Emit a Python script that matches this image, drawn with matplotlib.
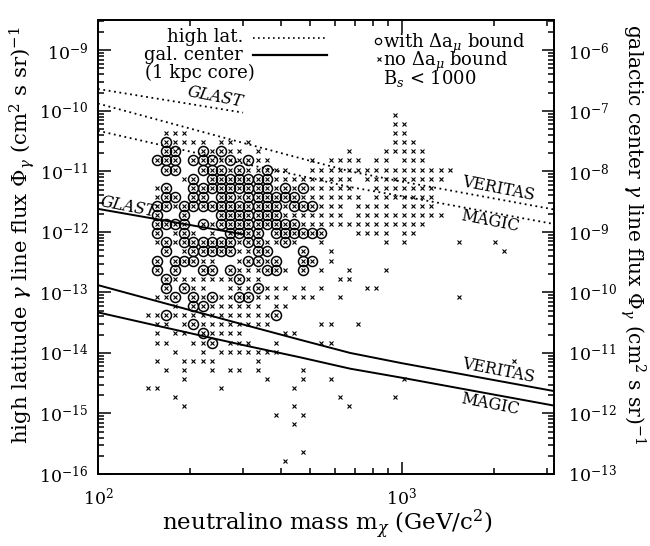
import numpy as np
import matplotlib.pyplot as plt
from matplotlib.ticker import LogLocator, NullFormatter

plt.rcParams["font.family"] = "DejaVu Serif"
plt.rcParams["mathtext.fontset"] = "dejavuserif"

# detector sensitivity curves (log10 flux), same curve read on both y scales
sens_mass = [100, 150, 300, 460, 675, 1000, 3162]
veritas_log = [-9.88, -10.12, -10.53, -10.78, -11.00, -11.17, -11.63]
magic_log = [-10.33, -10.53, -10.87, -11.07, -11.26, -11.41, -11.87]
glast_mass = [100, 300]
glast_highlat_log = [-9.64, -10.03]
glast_galcen_log = [-8.62, -9.04]

# scan grid: log10 mass of each column, log10 flux of each row
grid_logm = [2.164, 2.194, 2.224, 2.254, 2.284, 2.314, 2.344, 2.374, 2.404, 2.434,
             2.465, 2.495, 2.525, 2.555, 2.585, 2.615, 2.645, 2.675, 2.705, 2.735,
             2.766, 2.796, 2.826, 2.856, 2.886, 2.916, 2.946, 2.976, 3.006, 3.036,
             3.067, 3.097, 3.127, 3.157, 3.187, 3.217, 3.247, 3.277, 3.307, 3.337,
             3.368, 3.398, 3.428, 3.458, 3.488]
grid_logf = [-10.068, -10.218, -10.369, -10.519, -10.670, -10.820, -10.971, -11.121,
             -11.271, -11.422, -11.572, -11.723, -11.873, -12.023, -12.174, -12.324,
             -12.475, -12.625, -12.775, -12.926, -13.076, -13.227, -13.377, -13.527,
             -13.678, -13.828, -13.979, -14.129, -14.279, -14.430, -14.580, -14.731,
             -14.881, -15.031, -15.182, -15.332, -15.483, -15.633, -15.783]

# o = with delta a_mu bound (circled), x = no delta a_mu bound; groups of 5 columns
scan_map = [
    "..... ..... ..... ..... ..... ..x.. ..... ..... .....",
    "..... ..... ..... ..... ..... ..xx. ..... ..... .....",
    "..xxx ..... ..... ..... ..... ..xx. ..... ..... .....",
    "..oxx xx.xx .x... ..... ..... ..xxx ..... ..... .....",
    "..oo. .oxox x.x.. ..... ..x.. .xxxx x.... ..... .....",
    ".ooo. oooxo xoxx. ...x. xxxx. xx.xx x.... ..... .....",
    "..oo. .ooox oxxox x..xx xxxxx xxxxx xxxx. ..... .....",
    "....x o.ooo oooox xxxxx xxx.x xxxxx xxx.. ..... .....",
    ".xo.. ooooo oooox oxoxx xxx.. xxxxx xx... ..... .....",
    ".xoo. oo.oo xoooo ooxxx xxxx. xxxxx xx... ..... .....",
    ".ooxo ooooo ooooo xooox xx.xx xx.xx xx... ..... .....",
    ".o..o ...oo ooooo xxxxx xx.xx xxxxx xxx.. ..... .....",
    ".oooo .oxoo ooooo ooxxx xxxxx xxxxx x.... ..... .....",
    ".o.xo x.x.o ooo.o ooooo ...xx xx.xx ..... ..... .....",
    ".xoxo ooooo xooxx ox..x ..... .x.x. ....x ...x. .....",
    "..o.x ooooo xxoo. ..o.. x.... ..... ..... ....x .....",
    ".o.oo oxx.. xooxo ..oo. x.... ..... ..... ..... .....",
    ".o.o. .oo.o xxxoo x.o.x ..x.. .x... ..... ..... .....",
    "..oxx xxxxx oxx.. ..... .xx.. ..... ..... ..... .....",
    "..o.o xx..x xxoxx x.x.x ....x x.... ..... ..... .....",
    ".xxo. oxoxx ooxxx .xxx. .x... ..... ....x ..... .....",
    "...x. ooxxx xxx.x x.... ..... ..... ..... ..... .....",
    "xxoxx xxxxx xxxxo ..... ..... ..... ..... ..... .....",
    ".xx.x oxxxx xxxx. ....x x..x. ..... ..... ..... .....",
    ".x.xx .oxxx x.... xx... ..... ..... ..... ..... .....",
    ".xx.. xxo.x xx..x ....x x.... ..... ..... ..... .....",
    "...x. .x.xx xxxxx ..... ..... ..... ..... ..... .....",
    ".x..x xxx.. ..x.. ..... ..... ..... ..... ..... x....",
    "..x.x ..x.x x.x.. ..x.. ..... ..... ..... ..... .....",
    "....x ..... ...x. ..x.. x.... ...x. ..... ..... .....",
    "xx... ...x. ..... .x... ..... ..... ..... ..... .....",
    "...x. ..... ..... ..... .x... ..x.. ..... ..... .....",
    "....x ..... ..... .x... ..x.. ..... ..... ..... .....",
    "..... ..... ....x ..x.. ..... ..... ..... ..... .....",
    "..... ..... ..... .x... ..... ..... ..... ..... .....",
    "..... ..... ..... ..... ..... ..... ..... ..... .....",
    "..... ..... ..... ..... ..... ..... ..... ..... .....",
    "..... ..... ..... ..x.. ..... ..... ..... ..... .....",
    "..... ..... ..... x.... ..... ..... ..... ..... .....",
]

cross_m, cross_f, circ_m, circ_f = [], [], [], []
for row, line in enumerate(scan_map):
    for col, ch in enumerate(line.replace(" ", "")):
        if ch == ".":
            continue
        cross_m.append(10 ** grid_logm[col])
        cross_f.append(10 ** grid_logf[row])
        if ch == "o":
            circ_m.append(10 ** grid_logm[col])
            circ_f.append(10 ** grid_logf[row])

fig = plt.figure(figsize=(6.5, 5.46), dpi=100)
ax = fig.add_axes([98 / 650, 72 / 546, 456 / 650, 454 / 546])
ax2 = ax.twinx()

for a in (ax, ax2):
    a.set_xscale("log")
    a.set_yscale("log")
ax.set_xlim(100, 3162)
ax.set_ylim(1e-16, 10 ** -8.5)
ax2.set_ylim(1e-13, 10 ** -5.5)

dotted = (0, (1, 2))
sm = np.array(sens_mass)
ax.plot(sm, 10 ** np.array(veritas_log), color="black", lw=1.3, ls=dotted)
ax.plot(sm, 10 ** np.array(magic_log), color="black", lw=1.3, ls=dotted)
ax.plot(glast_mass, 10 ** np.array(glast_highlat_log), color="black", lw=1.3, ls=dotted)
ax2.plot(sm, 10 ** np.array(veritas_log), color="black", lw=1.4)
ax2.plot(sm, 10 ** np.array(magic_log), color="black", lw=1.4)
ax2.plot(glast_mass, 10 ** np.array(glast_galcen_log), color="black", lw=1.4)

ax.plot(cross_m, cross_f, ls="", marker="x", ms=3, mew=0.8, color="black")
ax.plot(circ_m, circ_f, ls="", marker="o", ms=7.2, mew=1.1, mfc="none", color="black")

lab = dict(ha="center", va="center", rotation=-11, rotation_mode="anchor", fontsize=11.5)
ax.text(243, 10 ** -9.77, "GLAST", style="italic", **lab)
ax2.text(126, 10 ** -8.59, "GLAST", style="italic", **lab)
ax.text(2070, 10 ** -11.29, "VERITAS", **lab)
ax.text(1945, 10 ** -11.82, "MAGIC", **lab)
ax2.text(2070, 10 ** -11.30, "VERITAS", **lab)
ax2.text(1945, 10 ** -11.84, "MAGIC", **lab)

# legend drawn by hand
tr = ax.transAxes
ax.text(0.318, 0.962, "high lat.", transform=tr, ha="right", va="center", fontsize=13)
ax.plot([0.340, 0.502], [0.960, 0.960], transform=tr, color="black", lw=1.2, ls=dotted)
ax.text(0.318, 0.923, "gal. center", transform=tr, ha="right", va="center", fontsize=13)
ax.plot([0.340, 0.502], [0.923, 0.923], transform=tr, color="black", lw=1.6)
ax.text(0.103, 0.883, "(1 kpc core)", transform=tr, ha="left", va="center", fontsize=13)

ax.plot([0.614], [0.953], transform=tr, marker="o", ms=4.5, mfc="none", mew=0.9, color="black")
ax.plot([0.616], [0.913], transform=tr, marker="x", ms=3, mew=0.8, color="black")
ax.text(0.626, 0.975,
        "with $\\Delta$a$_\\mu$ bound\nno $\\Delta$a$_\\mu$ bound\nB$_s$ < 1000",
        transform=tr, ha="left", va="top", fontsize=13, linespacing=0.62)

for a in (ax, ax2):
    a.yaxis.set_major_locator(LogLocator(base=10, numticks=20))
    a.yaxis.set_minor_locator(LogLocator(base=10, subs=np.arange(2, 10), numticks=20))
    a.yaxis.set_minor_formatter(NullFormatter())
    for s in a.spines.values():
        s.set_linewidth(1.3)
ax.xaxis.set_minor_formatter(NullFormatter())
ax.tick_params(which="both", direction="in", top=True, right=False, labelsize=12.5, width=1.1)
ax.tick_params(which="major", length=9, pad=9)
ax.tick_params(which="minor", length=4.5)
ax.tick_params(axis="y", pad=7)
ax2.tick_params(which="both", direction="in", labelsize=12.5, width=1.1)
ax2.tick_params(which="major", length=9, pad=10)
ax2.tick_params(which="minor", length=4.5)

fig.text(327 / 650, 1 - 524 / 546, r"neutralino mass m$_\chi$ (GeV/c$^2$)",
         ha="center", va="center", fontsize=16.5)
fig.text(22 / 650, 1 - 235 / 546,
         r"high latitude $\gamma$ line flux $\Phi_\gamma$ (cm$^2$ s sr)$^{-1}$",
         ha="center", va="center", rotation=90, fontsize=15.3)
fig.text(633 / 650, 1 - 234 / 546,
         r"galactic center $\gamma$ line flux $\Phi_\gamma$ (cm$^2$ s sr)$^{-1}$",
         ha="center", va="center", rotation=-90, fontsize=14.6)

fig.savefig("out.png", dpi=100)
